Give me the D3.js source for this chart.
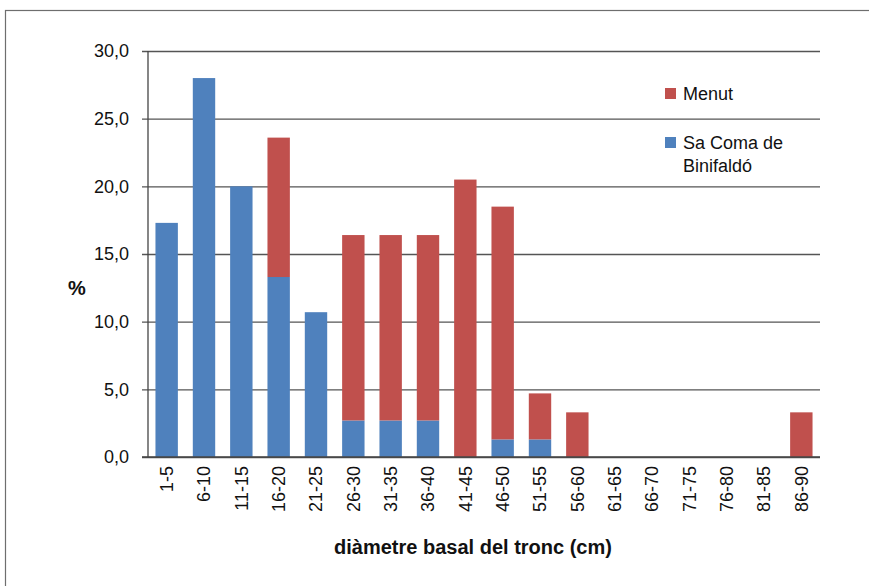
<!DOCTYPE html>
<html lang="ca">
<head>
<meta charset="UTF-8">
<title>Diàmetre basal</title>
<script src="https://cdnjs.cloudflare.com/ajax/libs/d3/7.8.5/d3.min.js"></script>
<style>
  body { margin: 0; background: #fff; }
  svg { font-family: "Liberation Sans", Arial, Helvetica, sans-serif; }
</style>
</head>
<body>
<div id="chart"></div>
<script>
// classes de diàmetre
const categories = ["1-5", "6-10", "11-15", "16-20", "21-25", "26-30", "31-35", "36-40", "41-45",
  "46-50", "51-55", "56-60", "61-65", "66-70", "71-75", "76-80", "81-85", "86-90"];
// percentatges (apilats: Sa Coma a baix, Menut a dalt)
const saComa = [17.3, 28.0, 20.0, 13.3, 10.7, 2.7, 2.7, 2.7, 0, 1.3, 1.3, 0, 0, 0, 0, 0, 0, 0];
const menut  = [0, 0, 0, 10.3, 0, 13.7, 13.7, 13.7, 20.5, 17.2, 3.4, 3.3, 0, 0, 0, 0, 0, 3.3];
const yTicks = [0, 5, 10, 15, 20, 25, 30];

const W = 869, H = 586;
const margin = {left: 148, right: 49, top: 51, bottom: 129};

const svg = d3.select("#chart").append("svg")
  .attr("width", W).attr("height", H);

// marc del gràfic
svg.append("rect")
  .attr("x", 5.5).attr("y", 10.5)
  .attr("width", W).attr("height", H)
  .attr("fill", "none").attr("stroke", "#6e6e6e").attr("stroke-width", 1.2);

const x = d3.scaleBand()
  .domain(categories)
  .range([margin.left, W - margin.right])
  .paddingInner(0.4).paddingOuter(0.2);

const y = d3.scaleLinear()
  .domain([0, 30])
  .range([H - margin.bottom, margin.top]);

const fmt = d => d.toFixed(1).replace(".", ",");

// eix Y amb línies de quadrícula
const yAxis = svg.append("g")
  .attr("transform", `translate(${margin.left},0)`)
  .call(d3.axisLeft(y).tickValues(yTicks).tickFormat(fmt)
    .tickSize(-(W - margin.right - margin.left)).tickSizeOuter(0).tickPadding(19));
yAxis.select(".domain").remove();
yAxis.selectAll(".tick line")
  .attr("x1", -6).attr("stroke", "#555").attr("stroke-width", 1.3);
yAxis.selectAll(".tick text")
  .attr("font-size", 18).attr("fill", "#111");

// barres apilades
const rows = categories.map((c, i) => ({cat: c, saComa: saComa[i], menut: menut[i]}));
const series = d3.stack().keys(["saComa", "menut"])(rows);
const colors = {saComa: "#4f81bd", menut: "#c0504d"};

svg.append("g").selectAll("g")
  .data(series)
  .join("g")
  .attr("fill", s => colors[s.key])
  .selectAll("rect")
  .data(s => s.filter(d => d[1] > d[0]))
  .join("rect")
  .attr("x", d => x(d.data.cat))
  .attr("width", x.bandwidth())
  .attr("y", d => y(d[1]))
  .attr("height", d => y(d[0]) - y(d[1]));

// eix Y línia vertical
svg.append("line")
  .attr("x1", margin.left).attr("x2", margin.left)
  .attr("y1", y(30)).attr("y2", y(0))
  .attr("stroke", "#444").attr("stroke-width", 1.3);

// eix X
const xAxis = svg.append("g")
  .attr("transform", `translate(0,${y(0)})`)
  .call(d3.axisBottom(x).tickSize(0).tickPadding(0));
xAxis.select(".domain").remove();
xAxis.selectAll(".tick text")
  .attr("transform", "rotate(-90)")
  .attr("text-anchor", "end")
  .attr("x", -9).attr("y", 0).attr("dy", "0.35em")
  .attr("font-size", 18).attr("fill", "#111");
svg.append("line")
  .attr("x1", margin.left - 6).attr("x2", W - margin.right)
  .attr("y1", y(0)).attr("y2", y(0))
  .attr("stroke", "#444").attr("stroke-width", 1.3);

// títols dels eixos
svg.append("text")
  .attr("x", 473).attr("y", 554)
  .attr("text-anchor", "middle")
  .attr("font-size", 20).attr("font-weight", "bold").attr("fill", "#111")
  .text("diàmetre basal del tronc (cm)");
svg.append("text")
  .attr("x", 77).attr("y", 295)
  .attr("text-anchor", "middle")
  .attr("font-size", 20).attr("font-weight", "bold").attr("fill", "#111")
  .text("%");

// llegenda
const legend = [
  {key: "menut", lines: ["Menut"], y: 88},
  {key: "saComa", lines: ["Sa Coma de", "Binifaldó"], y: 137}
];
const lg = svg.append("g").selectAll("g").data(legend).join("g");
lg.append("rect")
  .attr("x", 665).attr("y", d => d.y)
  .attr("width", 11).attr("height", 11)
  .attr("fill", d => colors[d.key]);
lg.each(function(d) {
  const t = d3.select(this).append("text")
    .attr("x", 683).attr("y", d.y + 12)
    .attr("font-size", 18).attr("fill", "#111");
  d.lines.forEach((l, i) => t.append("tspan").attr("x", 683).attr("dy", i ? 23 : 0).text(l));
});
</script>
</body>
</html>
